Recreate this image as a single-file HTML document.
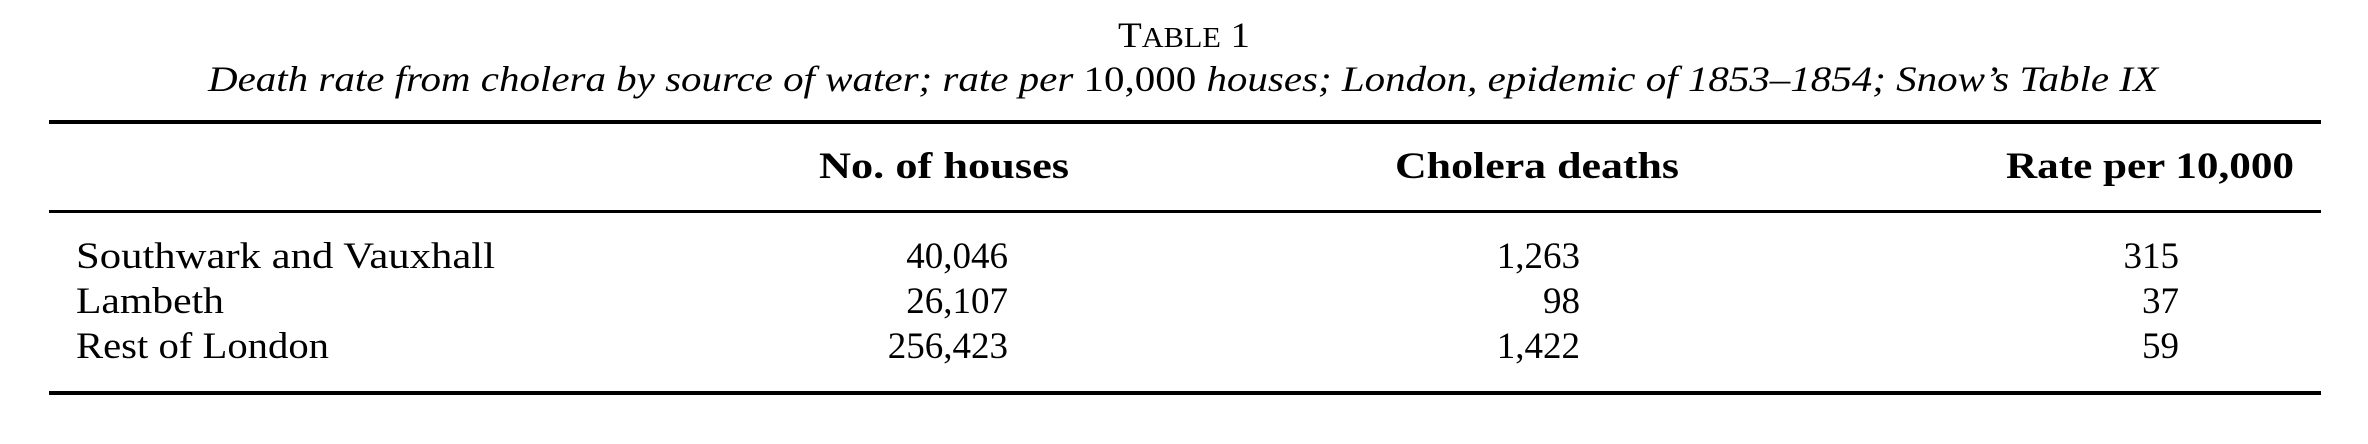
<!DOCTYPE html>
<html><head><meta charset="utf-8"><style>
html,body{margin:0;padding:0;background:#fff;}
svg{display:block;}
text{font-family:"Liberation Serif",serif;fill:#000;}
</style></head><body>
<svg id="t" width="2368" height="444" viewBox="0 0 2368 444">
<text x="1118" y="47" font-size="36" textLength="132" lengthAdjust="spacingAndGlyphs">T<tspan font-size="28">ABLE</tspan> 1</text>
<text x="208" y="91" font-size="36" font-style="italic" textLength="1950" lengthAdjust="spacingAndGlyphs">Death rate from cholera by source of water; rate per <tspan font-style="normal">10,000</tspan> houses; London, epidemic of 1853–1854; Snow’s Table IX</text>
<rect x="49" y="120" width="2272" height="4" fill="#000"/>
<rect x="49" y="210" width="2272" height="3" fill="#000"/>
<rect x="49" y="391" width="2272" height="4" fill="#000"/>
<g id="rows"></g>
</svg>
<script>
const headers = ["No. of houses", "Cholera deaths", "Rate per 10,000"];
const rowLabels = ["Southwark and Vauxhall", "Lambeth", "Rest of London"];
const houses = ["40,046", "26,107", "256,423"];
const deaths = ["1,263", "98", "1,422"];
const rates = ["315", "37", "59"];

const NS = "http://www.w3.org/2000/svg";
const g = document.getElementById('rows');
const hdrX = [[819, 250], [1395, 284], [2006, 288]];
const colRight = [1008, 1580, 2179];
const rowY = [268, 313, 358];
const labelW = [419, 148, 253];
function txt(s, x, y, opts) {
  const t = document.createElementNS(NS, 'text');
  t.setAttribute('x', x); t.setAttribute('y', y);
  t.setAttribute('font-size', '37');
  if (opts.bold) t.setAttribute('font-weight', 'bold');
  if (opts.anchor) t.setAttribute('text-anchor', opts.anchor);
  if (opts.len) { t.setAttribute('textLength', opts.len); t.setAttribute('lengthAdjust', 'spacingAndGlyphs'); }
  t.textContent = s;
  g.appendChild(t);
  return t;
}
headers.forEach((h, i) => {
  const t = txt(h, hdrX[i][0], 178, {bold: true, len: hdrX[i][1]});
  
  
});
const cols = [houses, deaths, rates];
rowLabels.forEach((lab, r) => {
  const t = txt(lab, 76, rowY[r], {len: labelW[r]});
  
  
  cols.forEach((col, c) => {
    const v = txt(col[r], colRight[c], rowY[r], {anchor: 'end'});
    
    
  });
});
</script>
</body></html>
